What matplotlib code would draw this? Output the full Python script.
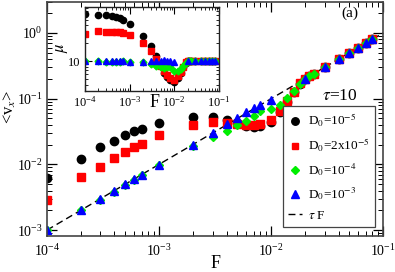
import numpy as np
import matplotlib
matplotlib.use("Agg")
import matplotlib.pyplot as plt
from matplotlib.ticker import LogLocator, FixedLocator, FixedFormatter, NullFormatter

plt.rcParams['font.family'] = ['Liberation Serif', 'DejaVu Serif']
plt.rcParams['mathtext.fontset'] = 'stix'

# ---------------- data ----------------
F_dense = [1e-4, 2e-4, 3e-4, 4e-4, 5e-4, 6e-4, 7e-4, 1e-3, 2e-3, 3e-3, 4e-3, 5e-3,
           6e-3, 7e-3, 8e-3, 1e-2, 1.2e-2, 1.4e-2, 1.6e-2, 1.8e-2, 2e-2, 2.2e-2,
           2.4e-2, 3e-2, 4e-2, 5e-2, 6e-2, 7e-2, 8e-2]
v_D1e5 = [0.0062, 0.0121, 0.0182, 0.023, 0.028, 0.032, 0.0346, 0.043, 0.053, 0.053,
          0.048, 0.042, 0.038, 0.037, 0.038, 0.044, 0.062, 0.088, 0.125, 0.17, 0.198,
          0.22, 0.24, 0.3, 0.4, 0.5, 0.6, 0.7, 0.8]
v_D2e5 = [0.0029, 0.0064, 0.0092, 0.0126, 0.0156, 0.0186, 0.0207, 0.028, 0.040, 0.044,
          0.043, 0.041, 0.040, 0.040, 0.041, 0.048, 0.066, 0.092, 0.128, 0.172, 0.2,
          0.22, 0.24, 0.3, 0.4, 0.5, 0.6, 0.7, 0.8]
v_D1e4 = [0.001, 0.002, 0.0029, 0.0038, 0.0049, 0.0057, 0.0069, 0.0097, 0.0193, 0.0264,
          0.0326, 0.040, 0.046, 0.055, 0.064, 0.069, 0.080, 0.102, 0.13, 0.17, 0.198,
          0.22, 0.24, 0.3, 0.4, 0.5, 0.6, 0.7, 0.8]
F_D1e3 = [1e-4, 2e-4, 3e-4, 4e-4, 5e-4, 6e-4, 7e-4, 1e-3, 2e-3, 3e-3, 4e-3, 5e-3,
          6e-3, 7e-3, 8e-3, 1e-2, 2e-2, 3e-2, 4e-2, 5e-2, 6e-2, 7e-2, 8e-2]
v_D1e3 = [0.001, 0.002, 0.003, 0.004, 0.005, 0.006, 0.007, 0.0098, 0.0195, 0.0304,
          0.0407, 0.050, 0.0620, 0.071, 0.081, 0.097, 0.2, 0.3, 0.4, 0.5, 0.6, 0.7, 0.8]
tau = 10.0
labels = [r'D$_0$=10$^{-5}$', r'D$_0$=2x10$^{-5}$', r'D$_0$=10$^{-4}$', r'D$_0$=10$^{-3}$',
          r'$\tau$ F']

F_dense_a = np.array(F_dense)
F_D1e3_a = np.array(F_D1e3)

# ---------------- figure ----------------
fig = plt.figure(figsize=(3.95, 2.72), dpi=100)
ax = fig.add_axes([0.119, 0.132, 0.851, 0.862])

red = '#ff0000'
green = '#00ee00'
blue = '#0000ff'

ax.plot(F_dense, v_D1e5, 'o', color='black', ms=6, mec='black', label=labels[0])
ax.plot(F_dense, v_D2e5, 's', color=red, ms=5.2, mec=red, label=labels[1])
ax.plot(F_dense, v_D1e4, 'D', color=green, ms=4.5, mec=green, label=labels[2])
ax.plot(F_D1e3, v_D1e3, '^', color=blue, ms=6, mec=blue, label=labels[3])
Fl = np.logspace(-4, -1, 50)
ax.plot(Fl, tau * Fl, '--', color='black', lw=1.0, dashes=(5, 3), label=labels[4], zorder=0)

ax.set_xscale('log')
ax.set_yscale('log')
ax.set_xlim(1e-4, 1e-1)
ax.set_ylim(8.1e-4, 3.0)
ax.tick_params(which='both', direction='in', top=True, right=True, labelsize=10)
ax.tick_params(which='major', length=7, width=0.9)
ax.tick_params(which='minor', length=3.5, width=0.7)
ax.tick_params(axis='x', pad=5)
ax.tick_params(axis='y', pad=3)
ax.xaxis.set_major_locator(LogLocator(base=10, numticks=10))
ax.yaxis.set_major_locator(LogLocator(base=10, numticks=10))
ax.xaxis.set_minor_locator(LogLocator(base=10, subs=np.arange(2, 10), numticks=20))
ax.yaxis.set_minor_locator(LogLocator(base=10, subs=np.arange(2, 10), numticks=20))
ax.yaxis.set_minor_formatter(NullFormatter())
ax.xaxis.set_minor_formatter(NullFormatter())
for s in ax.spines.values():
    s.set_color('#444444')
    s.set_linewidth(1.2)

ax.set_xlabel('F', fontsize=13)
ax.xaxis.set_label_coords(0.5, -0.115)
ax.xaxis.label.set_va('center')
ax.set_ylabel(r'<v$_x$>', fontsize=12)
ax.yaxis.set_label_coords(-0.112, 0.55)
ax.yaxis.label.set_va('center')

ax.text(0.875, 0.95, '(a)', transform=ax.transAxes, fontsize=11, ha='left', va='center')
ax.text(0.0413, 0.11, r'$\tau$=10', fontsize=12.5, ha='center', va='center', zorder=10)

leg = ax.legend(loc='lower right', bbox_to_anchor=(0.976, 0.038), fontsize=9.5,
                frameon=True, fancybox=False, edgecolor='#444444', framealpha=1,
                handlelength=1.0, handletextpad=0.5, borderpad=0.4, labelspacing=0.55,
                borderaxespad=0, markerscale=0.9)
leg.get_frame().set_linewidth(0.9)

# ---------------- inset ----------------
ins = fig.add_axes([0.215, 0.665, 0.339, 0.309])
ins.plot(F_dense_a, np.array(v_D1e5) / F_dense_a, 'o', color='black', ms=4.5)
ins.plot(F_dense_a, np.array(v_D2e5) / F_dense_a, 's', color=red, ms=4)
ins.plot(F_dense_a, np.array(v_D1e4) / F_dense_a, 'D', color=green, ms=3.5)
ins.plot(F_D1e3_a, np.array(v_D1e3) / F_D1e3_a, '^', color=blue, ms=4.5)
ins.set_xscale('log')
ins.set_yscale('log')
ins.set_xlim(1e-4, 1e-1)
ins.set_ylim(3.1, 82)
ins.tick_params(which='both', direction='in', top=True, right=True, labelsize=9, pad=3)
ins.tick_params(which='major', length=5, width=0.8)
ins.tick_params(which='minor', length=2.5, width=0.6)
ins.xaxis.set_major_locator(LogLocator(base=10, numticks=10))
ins.xaxis.set_minor_locator(LogLocator(base=10, subs=np.arange(2, 10), numticks=20))
ins.xaxis.set_minor_formatter(NullFormatter())
ins.yaxis.set_major_locator(FixedLocator([10]))
ins.yaxis.set_major_formatter(FixedFormatter(['10']))
ins.yaxis.set_minor_locator(LogLocator(base=10, subs=np.arange(2, 10), numticks=20))
ins.yaxis.set_minor_formatter(NullFormatter())
for s in ins.spines.values():
    s.set_color('#222222')
    s.set_linewidth(1.0)
ins.set_ylabel(r'$\mu$', fontsize=12)
ins.yaxis.set_label_coords(-0.17, 0.52)
ins.yaxis.label.set_va('center')
ins.text(3.6e-3, -0.13, 'F', transform=ins.get_xaxis_transform(), fontsize=13,
         ha='center', va='center')

fig.savefig('out.png', dpi=100)
